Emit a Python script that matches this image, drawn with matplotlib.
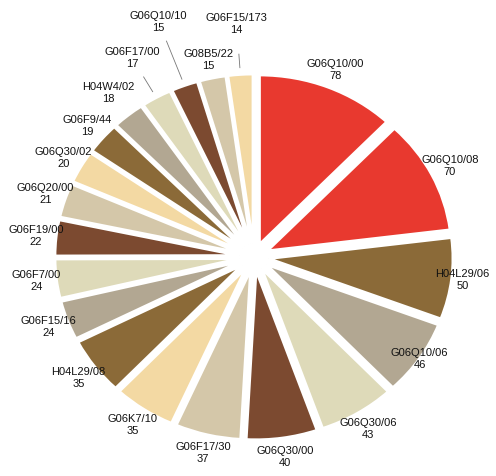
import numpy as np
import matplotlib
matplotlib.use('Agg')
import matplotlib.pyplot as plt

# patent classes and counts, clockwise from 12 o'clock
labels = ['G06Q10/00', 'G06Q10/08', 'H04L29/06', 'G06Q10/06', 'G06Q30/06',
          'G06Q30/00', 'G06F17/30', 'G06K7/10', 'H04L29/08', 'G06F15/16',
          'G06F7/00', 'G06F19/00', 'G06Q20/00', 'G06Q30/02', 'G06F9/44',
          'H04W4/02', 'G06F17/00', 'G06Q10/10', 'G08B5/22', 'G06F15/173']
values = [78, 70, 50, 46, 43, 40, 37, 35, 35, 24,
          24, 22, 21, 20, 19, 18, 17, 15, 15, 14]

red = '#e8392f'
cycle = ['#8b6a38', '#b2a792', '#dedab9', '#7c4a30', '#d4c7a9', '#f3d9a3']
colors = [red, red] + [cycle[i % 6] for i in range(len(values) - 2)]

# label radius tweaks for the crowded ones, plus leader lines
label_r = {'H04L29/06': 1.14, 'G06Q10/06': 1.08, 'H04W4/02': 1.25,
           'G06F17/00': 1.35, 'G06Q10/10': 1.48, 'G06F15/173': 1.38}
leader_end = {'G06F17/00': 1.22, 'G06Q10/10': 1.36, 'G06F15/173': 1.20}

fig = plt.figure(figsize=(4.96, 4.76), dpi=100)
ax = fig.add_axes([0, 0, 1, 1])

wedges, _ = ax.pie(values, colors=colors, startangle=90, counterclock=False,
                   explode=[0.08] * len(values),
                   wedgeprops=dict(edgecolor='white', linewidth=2))

for w, name, v in zip(wedges, labels, values):
    mid = np.deg2rad((w.theta1 + w.theta2) / 2)
    r = label_r.get(name, 1.19)
    ax.text(r * np.cos(mid), r * np.sin(mid), f'{name}\n{v}',
            ha='center', va='center', fontsize=8, color='#111111',
            family=['Liberation Sans', 'DejaVu Sans'], linespacing=1.25)
    if name in leader_end:
        rr = np.array([1.12, leader_end[name]])
        ax.plot(rr * np.cos(mid), rr * np.sin(mid), color='#777777', lw=0.6)

ax.set_aspect('auto')
ax.set_xlim(-1.378, 1.313)
ax.set_ylim(-1.293, 1.517)
ax.axis('off')

fig.savefig('out.png', dpi=100)
